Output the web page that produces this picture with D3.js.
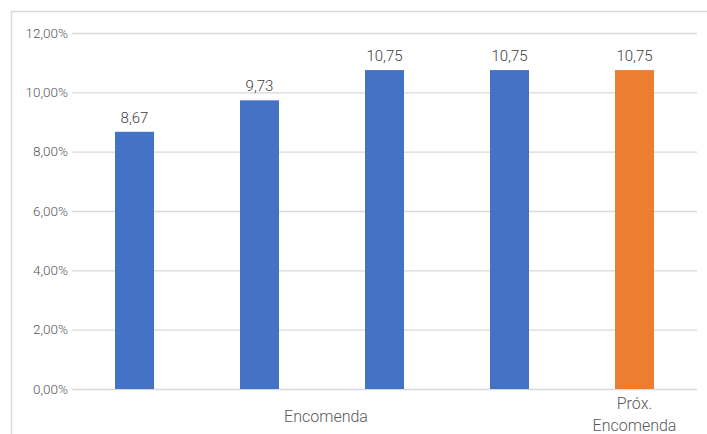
<!DOCTYPE html>
<html>
<head>
<meta charset="utf-8">
<script src="https://cdn.jsdelivr.net/npm/d3@7"></script>
<style>
  html, body { margin: 0; padding: 0; background: #fff; }
  svg { display: block; }
  text { font-family: Roboto, "Liberation Sans", Arial, sans-serif; font-weight: 300; }
</style>
</head>
<body>
<svg id="chart" width="707" height="434"></svg>
<script>
// Rates per order (percent)
const categories = ["c1", "c2", "c3", "c4", "c5"];
const values = [8.67, 9.73, 10.75, 10.75, 10.75];
const barColors = ["#4472C4", "#4472C4", "#4472C4", "#4472C4", "#ED7D31"];
const yTicks = [0, 2, 4, 6, 8, 10, 12];
const groupLabel = "Encomenda";          // spans the first four bars
const lastLabel = ["Próx.", "Encomenda"]; // under the last bar

const W = 707, H = 434;
const margin = { top: 33, right: 10, bottom: 45, left: 72 };
const svg = d3.select("#chart");

// outer chart frame
svg.append("rect")
  .attr("x", 11.5).attr("y", 11.5)
  .attr("width", W + 20).attr("height", H + 20)
  .attr("fill", "none").attr("stroke", "#d9d9d9").attr("stroke-width", 1.5);

const x = d3.scaleBand()
  .domain(categories)
  .range([margin.left, W - margin.right])
  .paddingInner(0.688).paddingOuter(0.344);

const y = d3.scaleLinear()
  .domain([0, 12])
  .range([H - margin.bottom, margin.top]);

// gridlines + tick labels
const yAxis = d3.axisLeft(y)
  .tickValues(yTicks)
  .tickSize(-(W - margin.right - margin.left))
  .tickPadding(4)
  .tickFormat(d => d.toFixed(2).replace(".", ",") + "%");

const gy = svg.append("g")
  .attr("transform", `translate(${margin.left},0)`)
  .call(yAxis);
gy.select(".domain").remove();
gy.selectAll(".tick line").attr("stroke", "#d9d9d9").attr("stroke-width", 1.3);
gy.selectAll(".tick text")
  .attr("fill", "#595959")
  .style("font-size", "13.5px");

// bars
svg.append("g").selectAll("rect")
  .data(values)
  .join("rect")
  .attr("x", (d, i) => x(categories[i]))
  .attr("y", d => y(d))
  .attr("width", x.bandwidth())
  .attr("height", d => y(0) - y(d))
  .attr("fill", (d, i) => barColors[i]);

// value labels
svg.append("g").selectAll("text")
  .data(values)
  .join("text")
  .attr("x", (d, i) => x(categories[i]) + x.bandwidth() / 2)
  .attr("y", d => y(d) - 9)
  .attr("text-anchor", "middle")
  .attr("fill", "#404040")
  .style("font-size", "15px")
  .text(d => d.toFixed(2).replace(".", ","));

// category labels
const step = x.step();
const groupStart = x(categories[0]) - x.paddingOuter() * step;
const groupEnd = x(categories[3]) + x.bandwidth() + x.paddingInner() * step / 2;
svg.append("text")
  .attr("x", (groupStart + groupEnd) / 2 + 4)
  .attr("y", H - margin.bottom + 33)
  .attr("text-anchor", "middle")
  .attr("fill", "#595959")
  .style("font-size", "16px")
  .text(groupLabel);

const last = svg.append("text")
  .attr("x", x(categories[4]) + x.bandwidth() / 2)
  .attr("y", H - margin.bottom + 20)
  .attr("text-anchor", "middle")
  .attr("fill", "#595959")
  .style("font-size", "16px");
lastLabel.forEach((t, i) => {
  last.append("tspan")
    .attr("x", x(categories[4]) + x.bandwidth() / 2)
    .attr("dy", i === 0 ? 0 : 22)
    .text(t);
});
</script>
</body>
</html>
